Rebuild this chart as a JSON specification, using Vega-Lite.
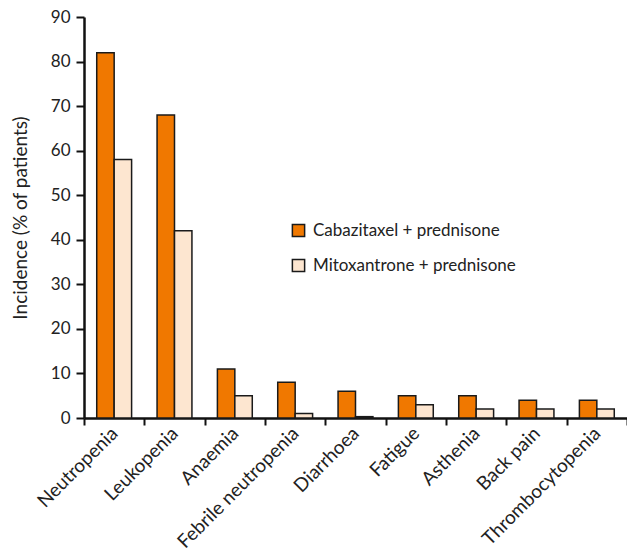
{
  "$schema": "https://vega.github.io/schema/vega-lite/v6.json",
  "autosize": "none",
  "padding": {"left": 84, "top": 17, "right": 0, "bottom": 137},
  "width": 543,
  "height": 401,
  "background": "white",
  "config": {"view": {"stroke": null}, "font": "Lato"},
  "data": {"values": [
    {"ae": "Neutropenia", "arm": "Cabazitaxel + prednisone", "pct": 82},
    {"ae": "Neutropenia", "arm": "Mitoxantrone + prednisone", "pct": 58},
    {"ae": "Leukopenia", "arm": "Cabazitaxel + prednisone", "pct": 68},
    {"ae": "Leukopenia", "arm": "Mitoxantrone + prednisone", "pct": 42},
    {"ae": "Anaemia", "arm": "Cabazitaxel + prednisone", "pct": 11},
    {"ae": "Anaemia", "arm": "Mitoxantrone + prednisone", "pct": 5},
    {"ae": "Febrile neutropenia", "arm": "Cabazitaxel + prednisone", "pct": 8},
    {"ae": "Febrile neutropenia", "arm": "Mitoxantrone + prednisone", "pct": 1},
    {"ae": "Diarrhoea", "arm": "Cabazitaxel + prednisone", "pct": 6},
    {"ae": "Diarrhoea", "arm": "Mitoxantrone + prednisone", "pct": 0.3},
    {"ae": "Fatigue", "arm": "Cabazitaxel + prednisone", "pct": 5},
    {"ae": "Fatigue", "arm": "Mitoxantrone + prednisone", "pct": 3},
    {"ae": "Asthenia", "arm": "Cabazitaxel + prednisone", "pct": 5},
    {"ae": "Asthenia", "arm": "Mitoxantrone + prednisone", "pct": 2},
    {"ae": "Back pain", "arm": "Cabazitaxel + prednisone", "pct": 4},
    {"ae": "Back pain", "arm": "Mitoxantrone + prednisone", "pct": 2},
    {"ae": "Thrombocytopenia", "arm": "Cabazitaxel + prednisone", "pct": 4},
    {"ae": "Thrombocytopenia", "arm": "Mitoxantrone + prednisone", "pct": 2}
  ]},
  "mark": {"type": "bar", "stroke": "#1a1a1a", "strokeWidth": 1.5},
  "encoding": {
    "x": {
      "field": "ae", "type": "nominal", "sort": null,
      "scale": {"paddingInner": 0, "paddingOuter": 0},
      "axis": {
        "title": null, "labelAngle": -45, "labelAlign": "right", "labelBaseline": "middle",
        "labelFontSize": 19, "labelColor": "#222", "labelPadding": 5, "labelLimit": 300,
        "tickBand": "extent", "tickSize": 7, "tickWidth": 2, "tickColor": "#111",
        "domainColor": "#111", "domainWidth": 2.5
      }
    },
    "xOffset": {
      "field": "arm", "type": "nominal",
      "scale": {"paddingInner": 0, "paddingOuter": 0.73}
    },
    "y": {
      "field": "pct", "type": "quantitative",
      "scale": {"domain": [0, 90]},
      "axis": {
        "title": "Incidence (% of patients)", "titleFontSize": 19, "titleFontWeight": "normal",
        "titleColor": "#222", "titlePadding": 20,
        "values": [0, 10, 20, 30, 40, 50, 60, 70, 80, 90],
        "labelFontSize": 17, "labelColor": "#222", "labelPadding": 6,
        "grid": false, "tickSize": 8, "tickWidth": 2, "tickColor": "#111",
        "domainColor": "#111", "domainWidth": 2.5
      }
    },
    "fill": {
      "field": "arm", "type": "nominal",
      "scale": {"domain": ["Cabazitaxel + prednisone", "Mitoxantrone + prednisone"], "range": ["#F07800", "#FDE6D0"]},
      "legend": {
        "title": null, "orient": "none", "legendX": 206, "legendY": 205,
        "symbolType": "square", "symbolSize": 150, "symbolStrokeColor": "#1a1a1a", "symbolStrokeWidth": 1.5,
        "labelFontSize": 17, "labelColor": "#222", "rowPadding": 16, "labelOffset": 6, "labelLimit": 400
      }
    }
  }
}
